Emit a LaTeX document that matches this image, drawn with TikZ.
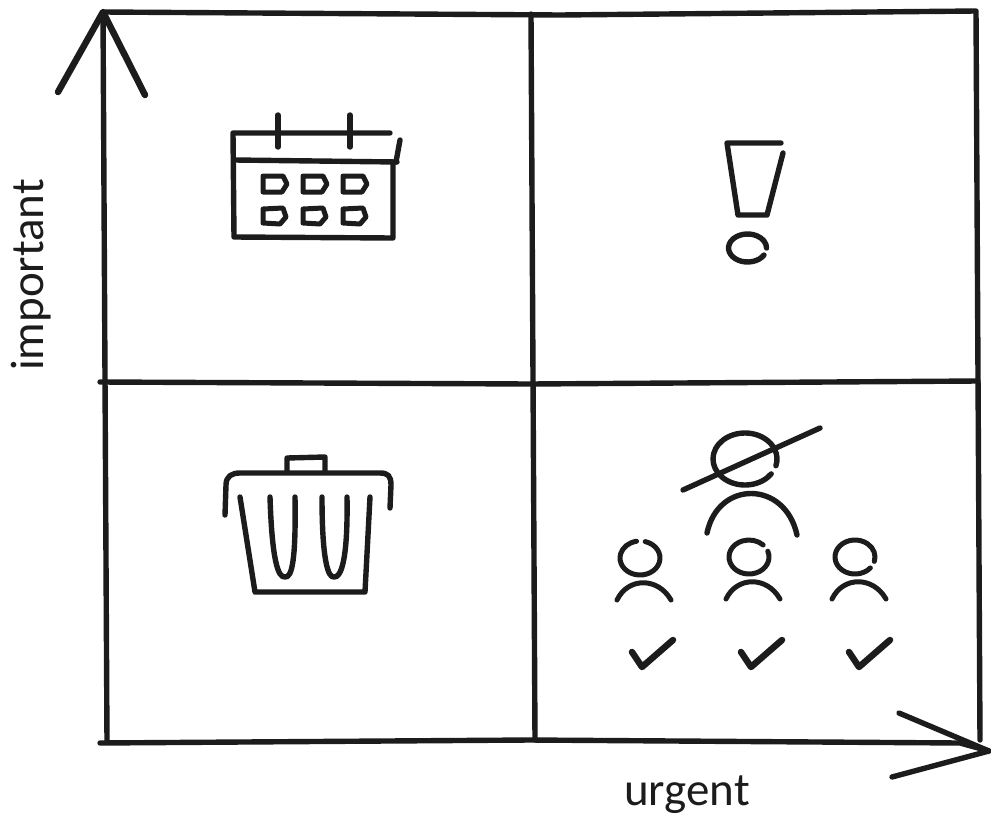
\documentclass[tikz,border=0pt]{standalone}
\usepackage{fontspec}
\setmainfont{Carlito}
\definecolor{ink}{RGB}{28,28,28}
\tikzset{
  grid line/.style={draw=ink,line width=5.4pt,line cap=round,line join=round},
  icon line/.style={draw=ink,line width=5.4pt,line cap=round,line join=round},
  thin icon/.style={draw=ink,line width=5pt,line cap=round,line join=round},
  axis label/.style={font=\fontsize{47}{50}\selectfont,text=ink,inner sep=0pt},
  % pictograms
  pics/person/.style={code={
    \draw[thin icon] (#1:20 and 17) arc (#1:#1+335:20 and 17);
    \draw[thin icon] (-23,42) .. controls (-12,19) and (18,19) .. (31,42);
  }},
  pics/person/.default=70,
  pics/tick/.style={code={
    \draw[icon line,line width=6.5pt] (-9,-2) -- (1,13) -- (32,-14);
  }},
}
\begin{document}
\begin{tikzpicture}[x=1pt,y=-1pt]
  \useasboundingbox (0,0) rectangle (991,817);
  % axes and quadrants
  \draw[grid line] (107,742) -- (103,12) -- (560,15) -- (976,11) -- (980,740);
  \draw[grid line,line width=6.5pt] (58,92) -- (103,12) -- (145,95);
  \draw[grid line] (100,743) -- (530,740) -- (960,743) -- (989,751);
  \draw[grid line] (899,713) -- (989,751) -- (892,777);
  \draw[grid line] (531,14) -- (535,740);
  \draw[grid line] (100,382) -- (530,384) -- (978,381);
  % calendar
  \draw[icon line] (390,133) -- (233,133) -- (234,237) -- (393,238) -- (393,162);
  \draw[icon line] (235,160) -- (397,162);
  \draw[icon line] (400,140) -- (396,162);
  \foreach \x in {278,350} \draw[icon line] (\x,115) -- (\x,147);
  \foreach \x in {263,303,343} {
    \draw[thin icon] (\x,176) -- ++(20,0) -- ++(4,8) -- ++(-5,8) -- ++(-19,0) -- cycle;
    \draw[thin icon] (\x,209) -- ++(20,-1) -- ++(3,9) -- ++(-6,7) -- ++(-17,-1) -- cycle;
  }
  % exclamation mark
  \draw[icon line] (781,143) -- (727,143) -- (738,215) -- (767,215) -- (783,153);
  \draw[icon line] (764,255) arc (30:360:19 and 14);
  % bin
  \draw[icon line] (225,515) -- (226,485) .. controls (226,476) and (232,473) .. (240,473) -- (380,473) .. controls (388,473) and (391,476) .. (391,485) -- (390,508);
  \draw[icon line] (287,471) -- (287,458) -- (325,457) -- (325,472);
  \draw[icon line] (240,497) -- (255,592) -- (365,592) -- (370,497);
  \draw[icon line] (270,497) .. controls (272,560) and (278,578) .. (285,577) .. controls (292,578) and (296,560) .. (295,497);
  \draw[icon line] (322,497) .. controls (322,560) and (328,578) .. (334,577) .. controls (341,578) and (348,560) .. (347,497);
  % people
  \draw[icon line] (745,459) ++(35:32 and 26) arc (35:375:32 and 26);
  \draw[icon line] (683,490) -- (820,428);
  \draw[icon line] (707,533) .. controls (718,480) and (785,480) .. (797,535);
  \foreach \x/\y/\g/\n in {640/558/-75/a,749/557/-20/b,855/557/40/c}
    \pic (person\n) at (\x,\y) {person=\g};
  \foreach \x/\n in {641/a,750/b,858/c}
    \pic (tick\n) at (\x,654) {tick};
  % labels
  \node[axis label] (urgentlabel) at (687,795) {urgent};
  \node[axis label,rotate=90] (importantlabel) at (31,275) {important};
\end{tikzpicture}
\end{document}
